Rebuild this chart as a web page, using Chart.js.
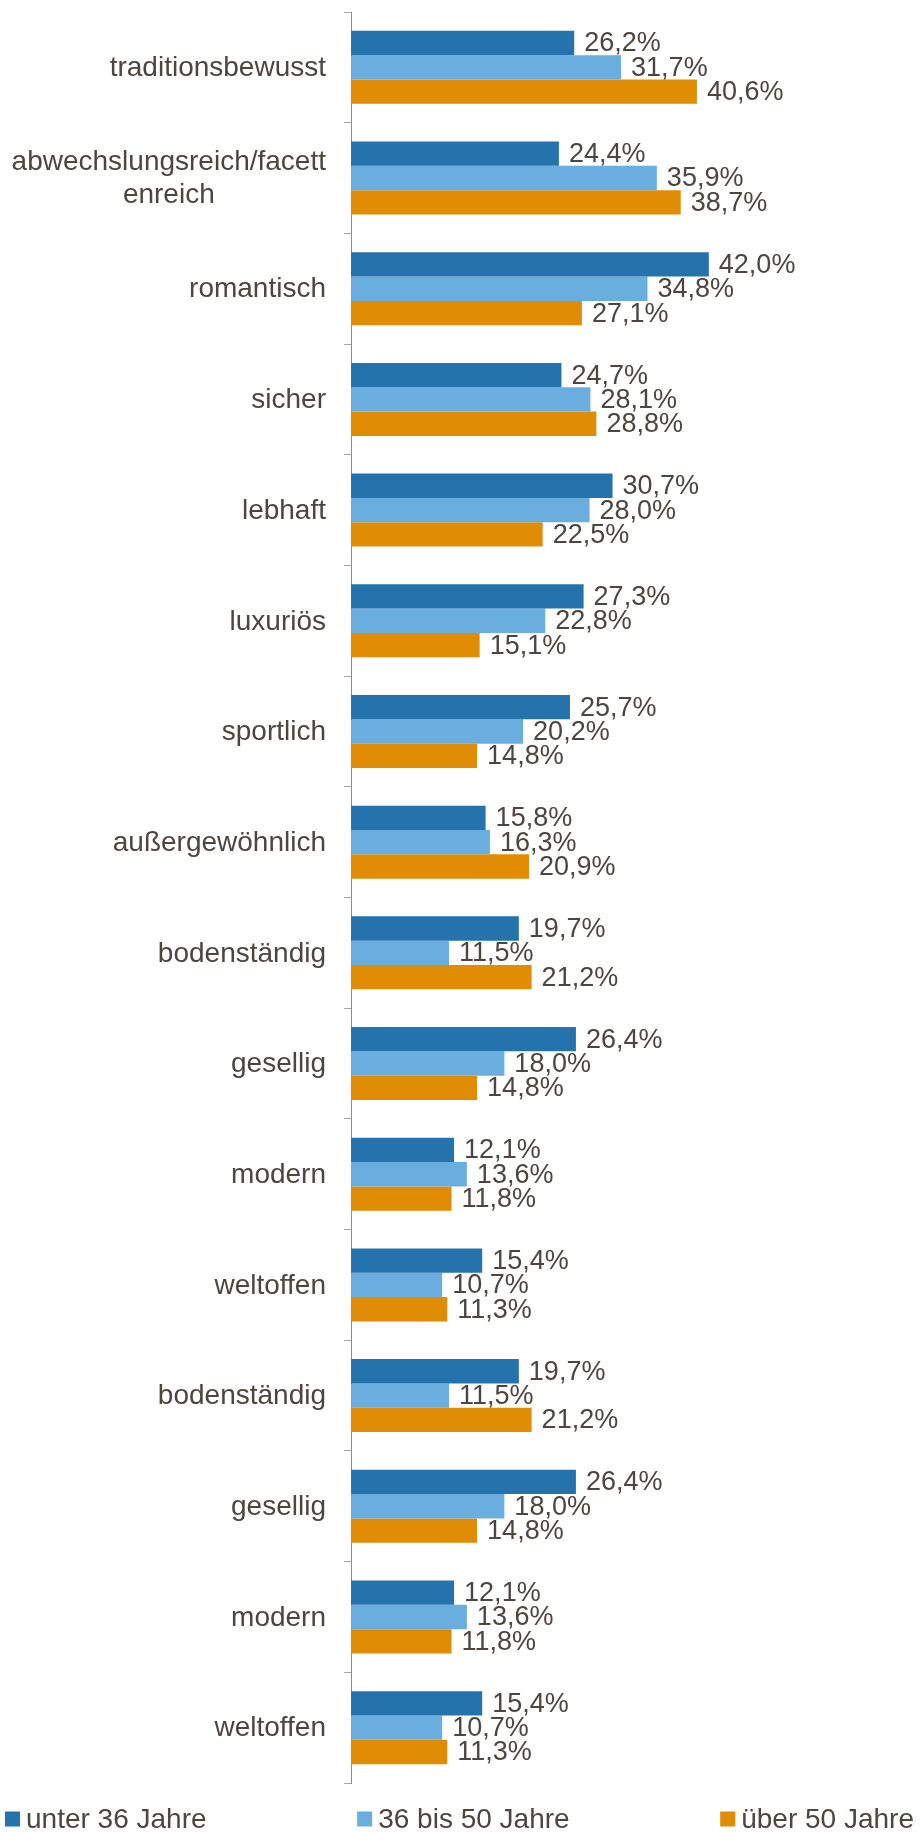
<!DOCTYPE html>
<html>
<head>
<meta charset="utf-8">
<title>Image attributes by age group</title>
<script src="https://cdn.jsdelivr.net/npm/chart.js@4.4.0/dist/chart.umd.min.js"></script>
<style>
  html, body { margin: 0; padding: 0; background: #ffffff; }
  #wrap { position: relative; width: 920px; height: 1832px; }
</style>
</head>
<body>
<div id="wrap"><canvas id="ageChart"></canvas></div>
<script>
// Categories (top to bottom), one value per age group
const categories = [
    'traditionsbewusst',
    ['abwechslungsreich/facett', 'enreich'],
    'romantisch',
    'sicher',
    'lebhaft',
    'luxuriös',
    'sportlich',
    'außergewöhnlich',
    'bodenständig',
    'gesellig',
    'modern',
    'weltoffen',
    'bodenständig',
    'gesellig',
    'modern',
    'weltoffen'
];
const seriesNames = ['unter 36 Jahre', '36 bis 50 Jahre', 'über 50 Jahre'];
const under36 = [26.2, 24.4, 42.0, 24.7, 30.7, 27.3, 25.7, 15.8, 19.7, 26.4, 12.1, 15.4, 19.7, 26.4, 12.1, 15.4];
const from36to50 = [31.7, 35.9, 34.8, 28.1, 28.0, 22.8, 20.2, 16.3, 11.5, 18.0, 13.6, 10.7, 11.5, 18.0, 13.6, 10.7];
const over50 = [40.6, 38.7, 27.1, 28.8, 22.5, 15.1, 14.8, 20.9, 21.2, 14.8, 11.8, 11.3, 21.2, 14.8, 11.8, 11.3];

const seriesColors = ['#2473AD', '#6AADDF', '#E08C05'];
const textColor = '#4D453F';
const fontFamily = "'Liberation Sans', Arial, sans-serif";
const labelFont = '28px ' + fontFamily;
const valueFont = '27px ' + fontFamily;

// value labels at the end of each bar, German decimal comma
const valueLabels = {
    id: 'valueLabels',
    afterDatasetsDraw(chart) {
        const ctx = chart.ctx;
        ctx.save();
        ctx.font = valueFont;
        ctx.fillStyle = textColor;
        ctx.textAlign = 'left';
        ctx.textBaseline = 'middle';
        chart.data.datasets.forEach((ds, i) => {
            chart.getDatasetMeta(i).data.forEach((bar, j) => {
                ctx.fillText(ds.data[j].toFixed(1).replace('.', ',') + '%', bar.x + 10, bar.y + 1);
            });
        });
        ctx.restore();
    }
};

// category labels: block right aligned, lines centred to each other
const categoryLabels = {
    id: 'categoryLabels',
    afterDraw(chart) {
        const ctx = chart.ctx;
        const yScale = chart.scales.y;
        const rightX = chart.chartArea.left - 25;
        const lineHeight = 33;
        ctx.save();
        ctx.font = labelFont;
        ctx.fillStyle = textColor;
        ctx.textAlign = 'center';
        ctx.textBaseline = 'middle';
        chart.data.labels.forEach((lbl, idx) => {
            const lines = Array.isArray(lbl) ? lbl : [lbl];
            const widest = Math.max(...lines.map(l => ctx.measureText(l).width));
            const cx = rightX - widest / 2;
            const yc = yScale.getPixelForValue(idx);
            const y0 = yc - (lines.length - 1) * lineHeight / 2;
            lines.forEach((line, k) => ctx.fillText(line, cx, y0 + k * lineHeight + 1));
        });
        ctx.restore();
    }
};

// legend spread over the full width below the plot
const spreadLegend = {
    id: 'spreadLegend',
    afterDraw(chart) {
        const ctx = chart.ctx;
        const box = 15, gap = 6, left = 5, right = 914, yc = 1819;
        ctx.save();
        ctx.font = labelFont;
        ctx.textBaseline = 'middle';
        ctx.textAlign = 'left';
        const widths = chart.data.datasets.map(ds => box + gap + ctx.measureText(ds.label).width);
        const space = (right - left - widths.reduce((a, b) => a + b, 0)) / (widths.length - 1);
        let x = left;
        chart.data.datasets.forEach((ds, i) => {
            ctx.fillStyle = ds.backgroundColor;
            ctx.fillRect(x, yc - box / 2, box, box);
            ctx.fillStyle = textColor;
            ctx.fillText(ds.label, x + box + gap, yc + 1);
            x += widths[i] + space;
        });
        ctx.restore();
    }
};

new Chart(document.getElementById('ageChart').getContext('2d'), {
    type: 'bar',
    data: {
        labels: categories,
        datasets: [under36, from36to50, over50].map((values, i) => ({
            label: seriesNames[i],
            data: values,
            backgroundColor: seriesColors[i],
            borderWidth: 0,
            categoryPercentage: 0.66,
            barPercentage: 1.0
        }))
    },
    options: {
        indexAxis: 'y',
        responsive: true,
        maintainAspectRatio: false,
        animation: false,
        layout: { padding: { top: 12, bottom: 49, left: 0, right: 143 } },
        plugins: {
            legend: { display: false },
            tooltip: { enabled: false }
        },
        scales: {
            x: { display: false, min: 0, max: 50 },
            y: {
                afterFit(scale) { scale.width = 351; },
                ticks: { display: false },
                grid: {
                    offset: true,
                    drawOnChartArea: false,
                    drawTicks: true,
                    tickLength: 7,
                    color: '#A6A6A6'
                },
                border: { display: true, color: '#8C8C8C', width: 1 }
            }
        }
    },
    plugins: [valueLabels, categoryLabels, spreadLegend]
});
</script>
</body>
</html>
